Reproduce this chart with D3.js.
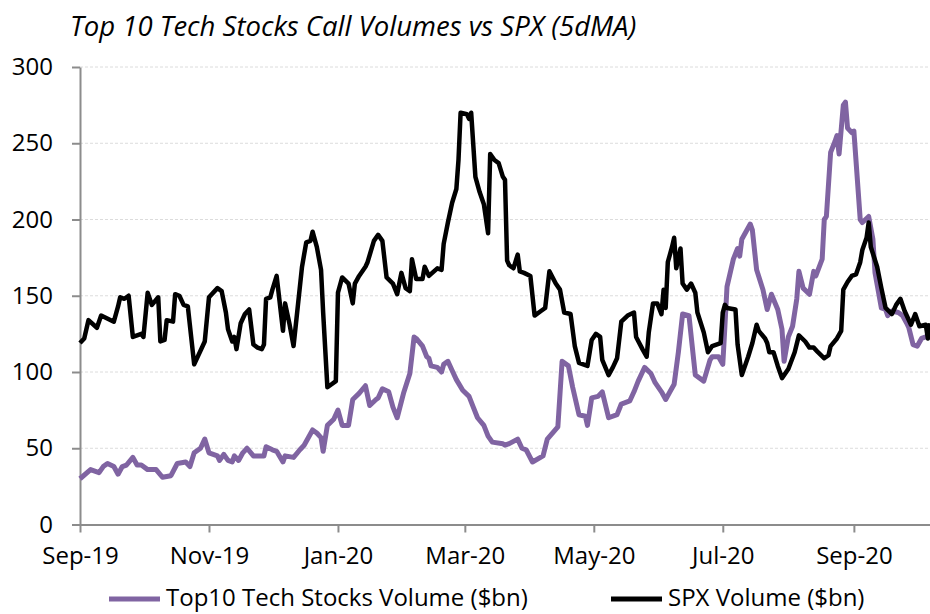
<!DOCTYPE html>
<html>
<head>
<meta charset="utf-8">
<script src="https://cdn.jsdelivr.net/npm/d3@7"></script>
<style>
  body { margin: 0; background: #fff; }
  svg { display: block; font-family: "Open Sans", sans-serif; }
</style>
</head>
<body>
<div id="chart"></div>
<script>
// Top 10 tech stocks call volume, 5dMA ($bn)
const techSeries = [
  ["2019-09-01", 30], ["2019-09-06", 36], ["2019-09-10", 34], ["2019-09-12", 38], ["2019-09-14", 40],
  ["2019-09-17", 38], ["2019-09-19", 33], ["2019-09-21", 38], ["2019-09-23", 39], ["2019-09-26", 44],
  ["2019-09-28", 39], ["2019-09-30", 39], ["2019-10-03", 36], ["2019-10-07", 36], ["2019-10-10", 31],
  ["2019-10-14", 32], ["2019-10-17", 40], ["2019-10-21", 41], ["2019-10-23", 38], ["2019-10-25", 47],
  ["2019-10-28", 50], ["2019-10-30", 56], ["2019-11-01", 47], ["2019-11-05", 45], ["2019-11-06", 42],
  ["2019-11-08", 46], ["2019-11-10", 42], ["2019-11-12", 41], ["2019-11-13", 45], ["2019-11-15", 42],
  ["2019-11-17", 47], ["2019-11-19", 50], ["2019-11-22", 45], ["2019-11-27", 45], ["2019-11-28", 51],
  ["2019-12-01", 49], ["2019-12-03", 48], ["2019-12-06", 41], ["2019-12-07", 45], ["2019-12-11", 44],
  ["2019-12-14", 49], ["2019-12-16", 52], ["2019-12-20", 62], ["2019-12-22", 60], ["2019-12-24", 57],
  ["2019-12-25", 48], ["2019-12-27", 65], ["2019-12-30", 69], ["2020-01-01", 75], ["2020-01-03", 65],
  ["2020-01-06", 65], ["2020-01-08", 82], ["2020-01-11", 86], ["2020-01-14", 91], ["2020-01-16", 78],
  ["2020-01-19", 82], ["2020-01-20", 83], ["2020-01-22", 89], ["2020-01-25", 87], ["2020-01-27", 77],
  ["2020-01-29", 70], ["2020-02-01", 86], ["2020-02-04", 99], ["2020-02-06", 123], ["2020-02-07", 122],
  ["2020-02-10", 117], ["2020-02-12", 110], ["2020-02-13", 109], ["2020-02-14", 104], ["2020-02-17", 103],
  ["2020-02-19", 100], ["2020-02-20", 105], ["2020-02-22", 107], ["2020-02-24", 101], ["2020-02-26", 95],
  ["2020-02-29", 88], ["2020-03-03", 84], ["2020-03-05", 77], ["2020-03-07", 70], ["2020-03-10", 65],
  ["2020-03-12", 58], ["2020-03-14", 54], ["2020-03-19", 53], ["2020-03-20", 52], ["2020-03-22", 53],
  ["2020-03-26", 56], ["2020-03-28", 50], ["2020-03-30", 49], ["2020-04-02", 41], ["2020-04-07", 45],
  ["2020-04-09", 56], ["2020-04-14", 64], ["2020-04-16", 107], ["2020-04-19", 104], ["2020-04-21", 90],
  ["2020-04-24", 72], ["2020-04-27", 71], ["2020-04-28", 65], ["2020-04-30", 83], ["2020-05-03", 84],
  ["2020-05-05", 87], ["2020-05-08", 70], ["2020-05-12", 72], ["2020-05-14", 79], ["2020-05-18", 81],
  ["2020-05-20", 87], ["2020-05-22", 94], ["2020-05-25", 103], ["2020-05-28", 99], ["2020-05-30", 93],
  ["2020-06-02", 87], ["2020-06-04", 82], ["2020-06-06", 87], ["2020-06-08", 92], ["2020-06-10", 113],
  ["2020-06-12", 138], ["2020-06-15", 137], ["2020-06-18", 98], ["2020-06-22", 94], ["2020-06-25", 108],
  ["2020-06-26", 110], ["2020-06-29", 110], ["2020-07-01", 105], ["2020-07-02", 130], ["2020-07-03", 156],
  ["2020-07-06", 174], ["2020-07-08", 181], ["2020-07-09", 176], ["2020-07-10", 187], ["2020-07-14", 197],
  ["2020-07-15", 193], ["2020-07-17", 167], ["2020-07-20", 154], ["2020-07-22", 141], ["2020-07-24", 151],
  ["2020-07-27", 141], ["2020-07-29", 128], ["2020-07-30", 107], ["2020-08-01", 123], ["2020-08-03", 130],
  ["2020-08-05", 148], ["2020-08-06", 166], ["2020-08-08", 155], ["2020-08-11", 151], ["2020-08-13", 166],
  ["2020-08-14", 163], ["2020-08-17", 174], ["2020-08-18", 200], ["2020-08-19", 202], ["2020-08-21", 244],
  ["2020-08-23", 251], ["2020-08-24", 255], ["2020-08-25", 243], ["2020-08-27", 275], ["2020-08-28", 277],
  ["2020-08-29", 260], ["2020-08-31", 257], ["2020-09-01", 258], ["2020-09-04", 200], ["2020-09-05", 198],
  ["2020-09-08", 202], ["2020-09-10", 187], ["2020-09-11", 165], ["2020-09-14", 142], ["2020-09-16", 141],
  ["2020-09-17", 137], ["2020-09-19", 140], ["2020-09-22", 139], ["2020-09-24", 137], ["2020-09-26", 132],
  ["2020-09-27", 129], ["2020-09-29", 118], ["2020-10-01", 117], ["2020-10-03", 122], ["2020-10-05", 123],
  ["2020-10-07", 123]
];

// SPX call volume, 5dMA ($bn)
const spxSeries = [
  ["2019-09-01", 119], ["2019-09-03", 122], ["2019-09-05", 134], ["2019-09-09", 129], ["2019-09-11", 137],
  ["2019-09-17", 133], ["2019-09-19", 143], ["2019-09-20", 149], ["2019-09-22", 148], ["2019-09-24", 150],
  ["2019-09-26", 123], ["2019-09-30", 125], ["2019-10-01", 123], ["2019-10-03", 152], ["2019-10-05", 144],
  ["2019-10-08", 149], ["2019-10-09", 120], ["2019-10-11", 121], ["2019-10-12", 134], ["2019-10-15", 133],
  ["2019-10-16", 151], ["2019-10-18", 150], ["2019-10-20", 144], ["2019-10-22", 143], ["2019-10-25", 105],
  ["2019-10-30", 120], ["2019-11-01", 149], ["2019-11-05", 155], ["2019-11-07", 153], ["2019-11-09", 139],
  ["2019-11-10", 128], ["2019-11-12", 120], ["2019-11-13", 123], ["2019-11-14", 115], ["2019-11-16", 132],
  ["2019-11-18", 138], ["2019-11-20", 141], ["2019-11-22", 118], ["2019-11-24", 116], ["2019-11-26", 115],
  ["2019-11-27", 118], ["2019-11-28", 148], ["2019-11-30", 149], ["2019-12-01", 154], ["2019-12-03", 163],
  ["2019-12-06", 127], ["2019-12-07", 145], ["2019-12-09", 132], ["2019-12-11", 117], ["2019-12-13", 143],
  ["2019-12-15", 169], ["2019-12-17", 185], ["2019-12-19", 186], ["2019-12-20", 192], ["2019-12-22", 182],
  ["2019-12-24", 167], ["2019-12-25", 139], ["2019-12-27", 90], ["2019-12-29", 92], ["2019-12-31", 94],
  ["2020-01-01", 152], ["2020-01-03", 162], ["2020-01-06", 158], ["2020-01-08", 145], ["2020-01-09", 158],
  ["2020-01-11", 163], ["2020-01-14", 169], ["2020-01-15", 172], ["2020-01-18", 186], ["2020-01-20", 190],
  ["2020-01-22", 186], ["2020-01-24", 162], ["2020-01-27", 158], ["2020-01-29", 151], ["2020-01-31", 165],
  ["2020-02-02", 155], ["2020-02-04", 153], ["2020-02-05", 174], ["2020-02-07", 161], ["2020-02-10", 161],
  ["2020-02-11", 169], ["2020-02-13", 163], ["2020-02-17", 168], ["2020-02-19", 167], ["2020-02-20", 184],
  ["2020-02-22", 198], ["2020-02-24", 211], ["2020-02-26", 220], ["2020-02-27", 239], ["2020-02-28", 270],
  ["2020-03-02", 269], ["2020-03-03", 266], ["2020-03-04", 270], ["2020-03-06", 228], ["2020-03-08", 218],
  ["2020-03-10", 210], ["2020-03-12", 191], ["2020-03-13", 243], ["2020-03-15", 239], ["2020-03-17", 237],
  ["2020-03-19", 228], ["2020-03-20", 226], ["2020-03-21", 173], ["2020-03-22", 170], ["2020-03-24", 168],
  ["2020-03-26", 177], ["2020-03-27", 166], ["2020-03-29", 165], ["2020-04-01", 163], ["2020-04-03", 137],
  ["2020-04-06", 140], ["2020-04-08", 142], ["2020-04-10", 166], ["2020-04-13", 158], ["2020-04-15", 154],
  ["2020-04-17", 139], ["2020-04-20", 138], ["2020-04-22", 117], ["2020-04-24", 106], ["2020-04-28", 104],
  ["2020-04-30", 121], ["2020-05-02", 125], ["2020-05-04", 123], ["2020-05-05", 108], ["2020-05-08", 98],
  ["2020-05-10", 103], ["2020-05-12", 109], ["2020-05-14", 133], ["2020-05-17", 137], ["2020-05-20", 139],
  ["2020-05-21", 123], ["2020-05-24", 115], ["2020-05-26", 110], ["2020-05-27", 126], ["2020-05-29", 145],
  ["2020-05-31", 145], ["2020-06-02", 138], ["2020-06-03", 154], ["2020-06-04", 142], ["2020-06-05", 172],
  ["2020-06-07", 182], ["2020-06-08", 188], ["2020-06-09", 168], ["2020-06-11", 181], ["2020-06-12", 158],
  ["2020-06-14", 154], ["2020-06-16", 158], ["2020-06-18", 152], ["2020-06-19", 139], ["2020-06-22", 126],
  ["2020-06-24", 113], ["2020-06-26", 117], ["2020-06-30", 119], ["2020-07-01", 139], ["2020-07-02", 144],
  ["2020-07-03", 142], ["2020-07-07", 141], ["2020-07-08", 118], ["2020-07-10", 98], ["2020-07-13", 110],
  ["2020-07-15", 119], ["2020-07-17", 131], ["2020-07-18", 127], ["2020-07-21", 122], ["2020-07-22", 119],
  ["2020-07-23", 113], ["2020-07-25", 113], ["2020-07-27", 104], ["2020-07-29", 96], ["2020-08-01", 102],
  ["2020-08-04", 113], ["2020-08-06", 124], ["2020-08-09", 120], ["2020-08-11", 116], ["2020-08-13", 116],
  ["2020-08-15", 113], ["2020-08-18", 109], ["2020-08-20", 111], ["2020-08-21", 117], ["2020-08-24", 122],
  ["2020-08-26", 127], ["2020-08-27", 154], ["2020-08-29", 159], ["2020-08-31", 163], ["2020-09-02", 164],
  ["2020-09-04", 172], ["2020-09-05", 180], ["2020-09-07", 188], ["2020-09-08", 198], ["2020-09-09", 182],
  ["2020-09-12", 169], ["2020-09-14", 155], ["2020-09-16", 142], ["2020-09-19", 138], ["2020-09-21", 144],
  ["2020-09-23", 148], ["2020-09-25", 140], ["2020-09-28", 131], ["2020-09-30", 138], ["2020-10-02", 130],
  ["2020-10-05", 131], ["2020-10-06", 122], ["2020-10-07", 132]
];

const yTicks = [0, 50, 100, 150, 200, 250, 300];
const xStart = "2019-09-01", xEnd = "2020-10-07";
const seriesNames = ["Top10 Tech Stocks Volume ($bn)", "SPX Volume ($bn)"];
const seriesColors = ["#8064a2", "#000000"];

const parse = d3.timeParse("%Y-%m-%d");
const W = 930, H = 614;
const plot = {left: 80, right: 930, top: 67, bottom: 524.5};

const svg = d3.select("#chart").append("svg")
    .attr("width", W)
    .attr("height", H);

const x = d3.scaleTime()
    .domain([parse(xStart), parse(xEnd)])
    .range([plot.left, plot.right]);

const y = d3.scaleLinear()
    .domain([0, 300])
    .range([plot.bottom, plot.top]);

// gridlines
svg.append("g")
  .selectAll("line")
  .data(yTicks.filter(d => d > 0))
  .enter().append("line")
    .attr("x1", plot.left).attr("x2", plot.right)
    .attr("y1", d => y(d)).attr("y2", d => y(d))
    .attr("stroke", "#dcdcdc")
    .attr("stroke-width", 1)
    .attr("stroke-dasharray", "3,2");

// Y axis
const yAxis = svg.append("g")
    .attr("transform", `translate(${plot.left},0)`)
    .call(d3.axisLeft(y).tickValues(yTicks).tickSize(8).tickPadding(19).tickSizeOuter(0));

// X axis
const xAxis = svg.append("g")
    .attr("transform", `translate(0,${plot.bottom})`)
    .call(d3.axisBottom(x).ticks(d3.timeMonth.every(2)).tickFormat(d3.timeFormat("%b-%y"))
      .tickSize(8).tickPadding(14).tickSizeOuter(0));

[yAxis, xAxis].forEach(g => {
  g.select(".domain").attr("stroke", "#8c8c8c").attr("stroke-width", 2);
  g.selectAll(".tick line").attr("stroke", "#8c8c8c").attr("stroke-width", 2);
  g.selectAll(".tick text")
    .attr("fill", "#000")
    .style("font-size", "24px")
    .style("font-family", "'Open Sans', sans-serif");
});

// lines
const line = d3.line()
    .x(d => x(parse(d[0])))
    .y(d => y(d[1]));

[techSeries, spxSeries].forEach((s, i) => {
  svg.append("path")
    .datum(s)
    .attr("fill", "none")
    .attr("stroke", seriesColors[i])
    .attr("stroke-width", i === 0 ? 5 : 4.5)
    .attr("stroke-linejoin", "round")
    .attr("d", line);
});

// Title
svg.append("text")
    .attr("x", 70)
    .attr("y", 36)
    .style("font-size", "27.5px")
    .style("font-style", "italic")
    .text("Top 10 Tech Stocks Call Volumes vs SPX (5dMA)");

// Legend
const legendX = [109, 611];
const legend = svg.append("g")
  .selectAll("g")
  .data(seriesNames)
  .enter().append("g")
    .attr("transform", (d, i) => `translate(${legendX[i]},599)`);

legend.append("line")
    .attr("x1", 0).attr("x2", 51)
    .attr("stroke", (d, i) => seriesColors[i])
    .attr("stroke-width", 5);

legend.append("text")
    .attr("x", 57)
    .attr("y", -1)
    .attr("dy", "0.35em")
    .style("font-size", "24px")
    .text(d => d);
</script>
</body>
</html>
